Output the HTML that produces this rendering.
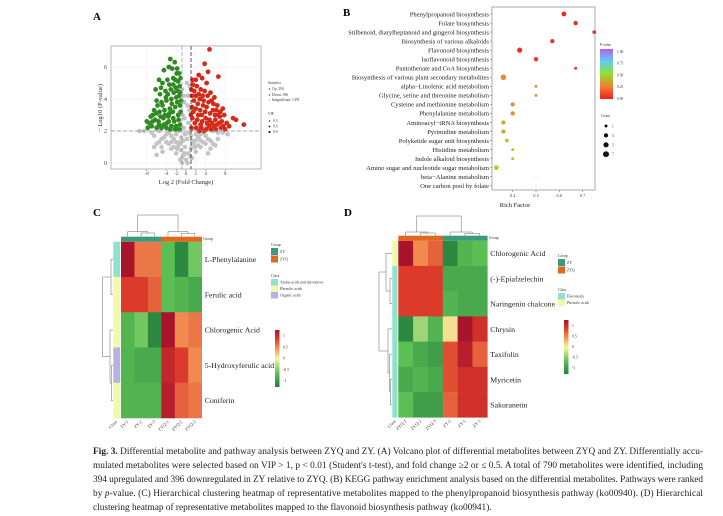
<!DOCTYPE html>
<html><head><meta charset="utf-8"><style>
html,body{margin:0;padding:0;background:#fff}
svg{display:block;font-family:"Liberation Serif",serif}
</style></head><body>
<svg id="fig" width="723" height="516" viewBox="0 0 723 516" xmlns="http://www.w3.org/2000/svg">
<g id="A"></g>
<g id="B"></g>
<g id="C"></g>
<g id="D"></g>
<g id="cap" font-size="9.3" fill="#222">
<text x="93" y="454" textLength="610" lengthAdjust="spacing"><tspan font-weight="bold">Fig. 3.</tspan> Differential metabolite and pathway analysis between ZYQ and ZY. (A) Volcano plot of differential metabolites between ZYQ and ZY. Differentially accu-</text>
<text x="93" y="468" textLength="610" lengthAdjust="spacing">mulated metabolites were selected based on VIP &gt; 1, p &lt; 0.01 (Student's t-test), and fold change ≥2 or ≤ 0.5. A total of 790 metabolites were identified, including</text>
<text x="93" y="482" textLength="610" lengthAdjust="spacing">394 upregulated and 396 downregulated in ZY relative to ZYQ. (B) KEGG pathway enrichment analysis based on the differential metabolites. Pathways were ranked</text>
<text x="93" y="496" textLength="610" lengthAdjust="spacing">by <tspan font-style="italic">p</tspan>-value. (C) Hierarchical clustering heatmap of representative metabolites mapped to the phenylpropanoid biosynthesis pathway (ko00940). (D) Hierarchical</text>
<text x="93" y="510">clustering heatmap of representative metabolites mapped to the flavonoid biosynthesis pathway (ko00941).</text>
</g>
</svg>
<script>
// ---------- Panel A data ----------
var volcanoUp=[[4.8,7.1],[3.8,6.2],[2.6,5.5],[3.3,5.3],[4.5,5.7],[4.2,5.0],[6.6,5.4],[1.4,4.9],[2.2,4.8],[3.0,4.6],[3.8,4.5],[5.0,4.4],[1.2,4.2],[2.0,4.2],[2.8,4.0],[3.6,3.9],[4.6,3.8],[5.6,3.7],[6.4,3.6],[7.5,3.4],[7.8,3.0],[1.2,3.5],[2.0,3.4],[2.9,3.3],[3.9,3.2],[4.9,3.1],[5.9,3.0],[6.9,2.9],[1.3,2.8],[2.3,2.7],[3.3,2.6],[4.3,2.5],[5.3,2.5],[6.3,2.4],[7.3,2.6],[8.3,2.5],[9.6,2.8],[10.2,2.7],[11.8,2.4],[1.1,2.2],[2.1,2.2],[3.1,2.2],[4.1,2.1],[5.1,2.1],[6.1,2.1],[7.1,2.2],[8.0,2.1],[1.6,3.9],[2.5,3.0],[3.5,3.6],[4.4,4.2],[5.8,4.1],[7.0,3.2],[6.0,2.7],[1.7,4.5],[2.4,3.7],[8.8,2.3],[1.1,4.6],[1.5,3.2],[1.8,2.5],[2.6,4.3],[3.2,3.0],[3.0,2.4],[4.0,2.8],[4.8,2.7],[5.5,3.3],[6.6,3.0],[7.6,2.3],[1.3,5.2],[2.0,5.2],[3.4,4.2],[4.2,3.5],[5.2,3.9],[6.2,3.3],[1.0,3.0],[2.7,2.0],[3.7,2.0],[4.7,2.3],[5.7,2.3],[6.8,2.5]];
var volcanoDown=[[-3.2,6.5],[-2.3,6.3],[-3.5,6.0],[-2.8,5.9],[-1.9,5.6],[-4.5,5.8],[-5.5,5.2],[-4.8,5.0],[-3.8,5.2],[-2.6,5.3],[-1.6,5.1],[-1.3,4.8],[-2.1,4.7],[-3.1,4.6],[-4.2,4.5],[-5.3,4.3],[-6.2,4.6],[-6.0,3.9],[-5.0,3.8],[-4.0,3.9],[-3.0,4.0],[-2.0,4.1],[-1.4,4.2],[-1.2,3.6],[-2.2,3.5],[-3.3,3.4],[-4.4,3.3],[-5.4,3.2],[-6.5,3.3],[-7.2,2.9],[-6.3,2.7],[-5.6,2.6],[-4.6,2.8],[-3.6,2.9],[-2.6,2.8],[-1.6,3.0],[-1.2,2.4],[-2.0,2.3],[-3.0,2.3],[-4.0,2.2],[-5.0,2.2],[-6.0,2.2],[-7.0,2.3],[-8.0,2.6],[-7.8,2.2],[-1.8,5.9],[-3.7,4.3],[-2.5,4.4],[-4.8,3.6],[-3.9,2.5],[-2.9,3.7],[-1.5,2.7],[-5.8,3.6],[-6.8,2.6],[-2.4,2.6],[-3.4,3.1],[-1.1,5.3],[-1.2,4.4],[-1.1,3.2],[-1.3,2.1],[-1.8,3.8],[-2.7,3.2],[-3.5,2.6],[-4.3,3.0],[-5.2,2.9],[-6.0,3.1],[-4.5,2.4],[-2.2,2.1],[-3.2,2.1],[-1.7,4.5],[-2.6,4.9],[-3.4,4.9],[-4.1,4.1],[-5.1,4.7],[-1.4,5.6],[-2.2,5.2],[-1.0,3.9],[-6.8,3.0],[-7.5,2.5],[-5.5,2.4]];
var volcanoNs=[[0,0.2],[-0.5,0.5],[0.5,0.6],[-1,0.8],[1,0.9],[-1.5,1.1],[1.5,1.2],[-2,1.3],[2,1.4],[-2.5,1.5],[2.5,1.6],[-3,1.7],[3,1.8],[-3.5,1.9],[3.5,1.9],[-4,1.8],[4,1.7],[-4.5,1.6],[4.5,1.5],[-5,1.5],[5,1.4],[-5.5,1.3],[5.5,1.2],[-6,1.2],[6,1.1],[-6.5,1.0],[-3,0.9],[3,1.0],[-2,0.6],[2,0.7],[-1,1.6],[1,1.7],[-0.5,2.2],[0.5,2.5],[-0.7,3.0],[0.7,3.3],[-0.4,3.8],[0.4,4.2],[-0.8,4.6],[0.8,4.8],[-0.3,2.8],[0.2,1.5],[-1.5,2.0],[1.5,2.1],[-4,2.2],[4,2.3],[-7,1.9],[-8.5,2.0],[6.5,1.9],[7.5,1.9],[-2.8,2.3],[2.8,2.4],[-5.5,2.0],[5.5,2.0],[-6,0.5],[-1.2,0.2],[1.2,0.3],[0.3,0.0],[-3.5,1.2],[3.5,1.3],[-0.2,1.0],[0.6,1.9],[-0.6,1.4],[-9.5,2.0],[8.5,1.8],[-0.3,0.6],[0.9,0.4],[-0.9,0.3],[-1.8,0.9],[1.8,1.0],[-2.5,1.0],[2.5,1.1],[-4.0,1.3],[4.0,1.2],[-5.0,1.0],[5.0,0.9],[-1.2,1.3],[1.2,1.4],[-0.2,1.8],[0.3,3.6],[-0.5,4.2],[0.2,5.0],[-3.0,1.3],[3.0,1.4],[-2.0,1.8],[2.0,1.8],[-6.5,1.7],[6.5,1.5],[-4.8,0.7],[4.5,0.6],[-0.8,0.0]];
var volcanoXTicks=[-8,-4,-2,0,2,4,8];
var volcanoYTicks=[0,2,4,6];
// ---------- Panel B data ----------
var pathways=["Phenylpropanoid biosynthesis","Folate biosynthesis","Stilbenoid, diarylheptanoid and gingerol biosynthesis","Biosynthesis of various alkaloids","Flavonoid biosynthesis","Isoflavonoid biosynthesis","Pantothenate and CoA biosynthesis","Biosynthesis of various plant secondary metabolites","alpha−Linolenic acid metabolism","Glycine, serine and threonine metabolism","Cysteine and methionine metabolism","Phenylalanine metabolism","Aminoacyl−tRNA biosynthesis","Pyrimidine metabolism","Polyketide sugar unit biosynthesis","Histidine metabolism","Indole alkaloid biosynthesis","Amino sugar and nucleotide sugar metabolism","beta−Alanine metabolism","One carbon pool by folate"];
var richFactor=[0.62,0.67,0.75,0.57,0.43,0.50,0.67,0.36,0.50,0.50,0.40,0.40,0.36,0.36,0.375,0.40,0.40,0.33,0.50,0.50];
var pValues=[0.02,0.03,0.04,0.04,0.03,0.05,0.06,0.28,0.34,0.36,0.30,0.30,0.38,0.38,0.42,0.45,0.45,0.48,0.6,0.6];
var counts=[4,3,2,3,5,3,1,6,1,1,3,3,3,3,2,1,1,4,0.2,0.2];
var richTicks=[0.4,0.5,0.6,0.7];
var pTicks=["1.00","0.75","0.50","0.25","0.00"];
var countTicks=[1,3,5,7];
// ---------- Panel C data ----------
var cRows=["L-Phenylalanine","Ferulic acid","Chlorogenic Acid","5-Hydroxyferulic acid","Coniferin"];
var cCols=["ZY-1","ZY-2","ZY-3","ZYQ-1","ZYQ-2","ZYQ-3"];
var cValues=[[1.3,0.6,0.6,-0.7,-1.2,-0.6],[0.9,0.9,0.7,-0.7,-0.8,-0.9],[-0.8,-0.6,-1.2,1.3,0.5,0.6],[-0.8,-0.9,-0.9,1.1,0.9,0.5],[-0.8,-0.8,-0.8,1.2,0.7,0.6]];
// ---------- Panel D data ----------
var dRows=["Chlorogenic Acid","(-)-Epiafzelechin","Naringenin chalcone","Chrysin","Taxifolin","Myricetin","Sakuranetin"];
var dCols=["ZYQ-1","ZYQ-2","ZYQ-3","ZY-2","ZY-1","ZY-3"];
var dValues=[[1.3,0.5,0.7,-1.2,-0.8,-0.7],[0.9,0.9,0.9,-0.9,-0.9,-0.9],[0.9,0.9,0.9,-0.8,-0.9,-0.9],[-1.2,-0.4,-0.8,0.1,1.3,1.0],[-0.7,-0.9,-1.0,0.8,1.2,0.7],[-0.9,-0.8,-0.9,0.8,1.0,1.0],[-0.7,-1.0,-1.0,0.7,1.0,1.0]];
var heatTicks=["1","0.5","0","-0.5","-1"];

var NS="http://www.w3.org/2000/svg";
function mk(parent,tag,attrs,txt){var e=document.createElementNS(NS,tag);for(var k in attrs)e.setAttribute(k,attrs[k]);if(txt!==undefined)e.textContent=txt;parent.appendChild(e);return e;}
function lerpC(a,b,t){var pa=[parseInt(a.substr(1,2),16),parseInt(a.substr(3,2),16),parseInt(a.substr(5,2),16)],pb=[parseInt(b.substr(1,2),16),parseInt(b.substr(3,2),16),parseInt(b.substr(5,2),16)];return "rgb("+pa.map(function(v,i){return Math.round(v+(pb[i]-v)*t)}).join(",")+")";}
function ramp(stops,v){if(v<=stops[0][0])return lerpC(stops[0][1],stops[0][1],0);for(var i=1;i<stops.length;i++){if(v<=stops[i][0]){var t=(v-stops[i-1][0])/(stops[i][0]-stops[i-1][0]);return lerpC(stops[i-1][1],stops[i][1],t);}}return lerpC(stops[stops.length-1][1],stops[stops.length-1][1],0);}

// ===== Panel A =====
(function(){
var g=document.getElementById('A');
var t=mk(g,'text',{x:93,y:20,'font-size':11,'font-weight':'bold'},'A');

var X0=111,X1=261,Y0=46,Y1=169;
function sx(v){return 186+v*4.9;} function sy(v){return 163-v*16;}
var bg=mk(g,'rect',{x:X0,y:Y0,width:X1-X0,height:Y1-Y0,fill:'#fff',stroke:'#999','stroke-width':0.7});

volcanoXTicks.forEach(function(v){mk(g,'line',{x1:sx(v),x2:sx(v),y1:Y0,y2:Y1,stroke:'#eee','stroke-width':0.5});
 var l=mk(g,'text',{x:sx(v),y:175,'font-size':5,'text-anchor':'middle',fill:'#444'},v);
 
 mk(g,'line',{x1:sx(v),x2:sx(v),y1:Y1,y2:Y1+2,stroke:'#777','stroke-width':0.5});});
volcanoYTicks.forEach(function(v){mk(g,'line',{x1:X0,x2:X1,y1:sy(v),y2:sy(v),stroke:'#eee','stroke-width':0.5});
 var l=mk(g,'text',{x:107,y:sy(v)+2,'font-size':6,'text-anchor':'end',fill:'#444'},v);
 });
function pts(arr,col,r,name){arr.forEach(function(p){var c=mk(g,'circle',{cx:sx(p[0]),cy:sy(p[1]),r:r,fill:col});
 });}
pts(volcanoNs,'#c4c4c4',2.3,'point-insignificant');
pts(volcanoDown,'#2f8a22',2.4,'point-down');
pts(volcanoUp,'#d42a1a',2.4,'point-up');
mk(g,'line',{x1:X0,x2:X1,y1:sy(2),y2:sy(2),stroke:'#888','stroke-width':0.8,'stroke-dasharray':'4,2'});
mk(g,'line',{x1:182,x2:182,y1:Y0,y2:Y1,stroke:'#999','stroke-width':0.8,'stroke-dasharray':'4,2'});
mk(g,'line',{x1:191,x2:191,y1:Y0,y2:Y1,stroke:'#333','stroke-width':0.8,'stroke-dasharray':'4,2'});
var xt=mk(g,'text',{x:186,y:184,'font-size':6.5,'text-anchor':'middle',fill:'#333'},'Log 2   (Fold Change)');

var yt=mk(g,'text',{x:0,y:0,'font-size':6.5,'text-anchor':'middle',fill:'#333',transform:'translate(102,108) rotate(-90)'},'− Log10 (P-value)');

var lg=mk(g,'g',{'font-size':3.6,fill:'#333'});
mk(lg,'text',{x:268,y:84},'Statistics');
[['#d42a1a','Up: 394',90],['#2f8a22','Down: 396',96],['#c4c4c4','Insignificant: 1478',101]].forEach(function(e){mk(lg,'circle',{cx:269.5,cy:e[2]-1,r:0.8,fill:e[0]});mk(lg,'text',{x:272,y:e[2]},e[1]);});
mk(lg,'text',{x:268,y:115},'VIP');
[['0.3',122,0.7],['0.6',127.5,0.9],['0.9',133,1.1]].forEach(function(e){mk(lg,'circle',{cx:269.5,cy:e[1]-1,r:e[2],fill:'#222'});mk(lg,'text',{x:273,y:e[1]},e[0]);});
})();

// ===== Panel B =====
(function(){
var g=document.getElementById('B');
var t=mk(g,'text',{x:343,y:16,'font-size':11,'font-weight':'bold'},'B');

var X0=492,X1=595,Y0=7,Y1=190;
function sx(v){return 512.7+(v-0.4)*233;} function sy(i){return 14+i*9.04;}
var pStops=[[0,'#f02020'],[0.25,'#f08030'],[0.5,'#90e030'],[0.75,'#60d0f0'],[1,'#b060f0']];
mk(g,'rect',{x:X0,y:Y0,width:X1-X0,height:Y1-Y0,fill:'#fff',stroke:'#888','stroke-width':0.7});
pathways.forEach(function(p,i){var l=mk(g,'text',{x:489,y:sy(i)+2.3,'font-size':6.6,'text-anchor':'end',fill:'#222'},p);
 
 mk(g,'line',{x1:X0-2,x2:X0,y1:sy(i),y2:sy(i),stroke:'#666','stroke-width':0.5});
 var c=mk(g,'circle',{cx:sx(richFactor[i]),cy:sy(i),r:0.6+Math.sqrt(counts[i])*0.9,fill:ramp(pStops,pValues[i]),'fill-opacity':counts[i]<0.5?0.25:1});
 });
richTicks.forEach(function(v){mk(g,'line',{x1:sx(v),x2:sx(v),y1:Y1,y2:Y1+2,stroke:'#666','stroke-width':0.5});
 var l=mk(g,'text',{x:sx(v),y:197,'font-size':4.5,'text-anchor':'middle',fill:'#444'},v);
 });
var xt=mk(g,'text',{x:515,y:207,'font-size':6.5,'text-anchor':'middle',fill:'#222'},'Rich Factor');

var defs=mk(g,'defs',{});var lgd=mk(defs,'linearGradient',{id:'pg',x1:0,y1:1,x2:0,y2:0});
pStops.forEach(function(s){mk(lgd,'stop',{offset:s[0],'stop-color':s[1]});});
var lg=mk(g,'g',{'font-size':3.6,fill:'#333'});
mk(lg,'text',{x:600,y:46},'P-value');
mk(lg,'rect',{x:600,y:49,width:13,height:50,fill:'url(#pg)'});
pTicks.forEach(function(v,i){mk(lg,'text',{x:617,y:53+i*11.7},v);});
var cl=mk(g,'g',{'font-size':3.6,fill:'#333'});
mk(cl,'text',{x:601,y:117},'Count');
countTicks.forEach(function(v,i){mk(cl,'circle',{cx:606,cy:126+i*9.4,r:0.6+Math.sqrt(v)*0.9,fill:'#111'});mk(cl,'text',{x:612,y:127.5+i*9.4},v);});
})();

// ===== Heatmaps =====
var hStops=[[-1.3,'#237d3c'],[-0.7,'#5cbf55'],[0,'#f5f5a0'],[0.5,'#f08a50'],[0.9,'#dc3a2a'],[1.3,'#a8142a']];
function heat(g,o){
 var cw=(o.x1-o.x0)/o.cols.length,rh=(o.y1-o.y0)/o.rows.length;
 o.vals.forEach(function(row,i){row.forEach(function(v,j){var r=mk(g,'rect',{x:o.x0+j*cw,y:o.y0+i*rh,width:cw+0.3,height:rh+0.3,fill:ramp(hStops,v)});
  });
  var l=mk(g,'text',{x:o.x1+3,y:o.y0+(i+0.5)*rh+2.8,'font-size':7.8,fill:'#222'},o.rows[i]);
  });
 o.cols.forEach(function(c,j){var gc=o.groupCol[j];mk(g,'rect',{x:o.x0+j*cw,y:o.y0-5,width:cw+0.3,height:5,fill:gc});
  var x=o.x0+(j+0.5)*cw;var l=mk(g,'text',{x:0,y:0,'font-size':4.5,'text-anchor':'end',fill:'#444',transform:'translate('+(x+1)+','+(o.y1+4)+') rotate(-45)'},c);
  });
 var cl=mk(g,'text',{x:0,y:0,'font-size':4.5,'text-anchor':'end',fill:'#444',transform:'translate('+(o.cx0+4)+','+(o.y1+4)+') rotate(-45)'},'Class');
 o.classCol.forEach(function(c,i){mk(g,'rect',{x:o.cx0,y:o.y0+i*rh,width:o.x0-o.cx0-0.8,height:rh+0.3,fill:c});});
 mk(g,'text',{x:o.x1+1.5,y:o.y0-1.5,'font-size':3.8,fill:'#333'},'Group');
 var p=o.tree.map(function(s){return 'M'+s.join(' ');}).join(' ');
 var tr=mk(g,'path',{d:p,fill:'none',stroke:'#666','stroke-width':0.5});
 
}
function topLink(a,b,y,ya,yb){return [a,ya,'L',a,y,'L',b,y,'L',b,yb];}
function leftLink(a,b,x,xa,xb){return [xa,a,'L',x,a,'L',x,b,'L',xb,b];}
function legend(g,o){
 var lg=mk(g,'g',{'font-size':3.8,fill:'#333'});
 mk(lg,'text',{x:o.x,y:o.gy},'Group');
 [['#3a9a7a','ZY'],['#e06820','ZYQ']].forEach(function(e,i){mk(lg,'rect',{x:o.x,y:o.gy+2+i*7.5,width:7,height:7,fill:e[0]});mk(lg,'text',{x:o.x+9,y:o.gy+7+i*7.5},e[1]);});
 mk(lg,'text',{x:o.x,y:o.cy},'Class');
 o.classes.forEach(function(e,i){mk(lg,'rect',{x:o.x,y:o.cy+2+i*6.5,width:7,height:6.5,fill:e[0]});mk(lg,'text',{x:o.x+9,y:o.cy+6.5+i*6.5},e[1]);});
 var id='hg'+o.x;var defs=mk(g,'defs',{});var lgd=mk(defs,'linearGradient',{id:id,x1:0,y1:1,x2:0,y2:0});
 hStops.forEach(function(s){mk(lgd,'stop',{offset:(s[0]+1.3)/2.6,'stop-color':s[1]});});
 mk(lg,'rect',{x:o.bx,y:o.by0,width:4.5,height:o.by1-o.by0,fill:'url(#'+id+')'});
 var step=(o.by1-o.by0-12)/4;
 heatTicks.forEach(function(v,i){mk(lg,'text',{x:o.bx+8,y:o.by0+7+i*step},v);});
}
var ZY='#3a9a7a',ZYQ='#e06820',AQ='#90e2cc',YL='#f2f9a8',LV='#b8b2e2';
(function(){
var g=document.getElementById('C');
var t=mk(g,'text',{x:93,y:216,'font-size':11,'font-weight':'bold'},'C');

var c=[127.7,141,154.5,168,181.3,194.8],r=[259.3,294.7,330,365.3,400.7];
heat(g,{x0:121,x1:201.7,y0:241.7,y1:418,cx0:113.3,rows:cRows,cols:cCols,vals:cValues,groupCol:[ZY,ZY,ZY,ZYQ,ZYQ,ZYQ],classCol:[AQ,YL,YL,LV,YL],
 tree:[topLink(c[1],c[2],233,236.7,236.7),topLink(c[0],147.8,231.5,236.7,233),topLink(c[4],c[5],233.5,236.7,236.7),topLink(c[3],188,231.5,236.7,233.5),topLink(137.7,178,215,231.5,231.5),
 leftLink(r[0],r[1],111,113,113),leftLink(r[3],r[4],111.5,113,113),leftLink(r[2],383,110,113,111.5),leftLink(277,356.5,102.5,111,110)]});
legend(g,{x:271,gy:246,cy:277,classes:[[AQ,'Amino acids and derivatives'],[YL,'Phenolic acids'],[LV,'Organic acids']],bx:275,by0:330,by1:387});
})();
(function(){
var g=document.getElementById('D');
var t=mk(g,'text',{x:344,y:216,'font-size':11,'font-weight':'bold'},'D');

var c=[405.7,420.5,435.3,450.1,464.9,479.7],r=[253.3,278.5,303.7,328.9,354.1,379.3,404.5];
heat(g,{x0:398.3,x1:487.3,y0:240.7,y1:417.3,cx0:392.3,rows:dRows,cols:dCols,vals:dValues,groupCol:[ZYQ,ZYQ,ZYQ,ZY,ZY,ZY],classCol:[YL,AQ,AQ,AQ,AQ,AQ,AQ],
 tree:[topLink(c[1],c[2],233,235.7,235.7),topLink(c[0],427.9,232,235.7,233),topLink(c[4],c[5],233.5,235.7,235.7),topLink(c[3],472.3,232,235.7,233.5),topLink(416.8,461.2,216,232,232),
 leftLink(r[1],r[2],390,392,392),leftLink(r[0],291,386,392,390),leftLink(r[5],r[6],390.5,392,392),leftLink(r[4],392,389.5,392,390.5),leftLink(r[3],373,388,392,389.5),leftLink(272,351,379,386,388)]});
legend(g,{x:558,gy:257,cy:291,classes:[[AQ,'Flavonoids'],[YL,'Phenolic acids']],bx:564,by0:320,by1:374});
})();
</script>
</body></html>
